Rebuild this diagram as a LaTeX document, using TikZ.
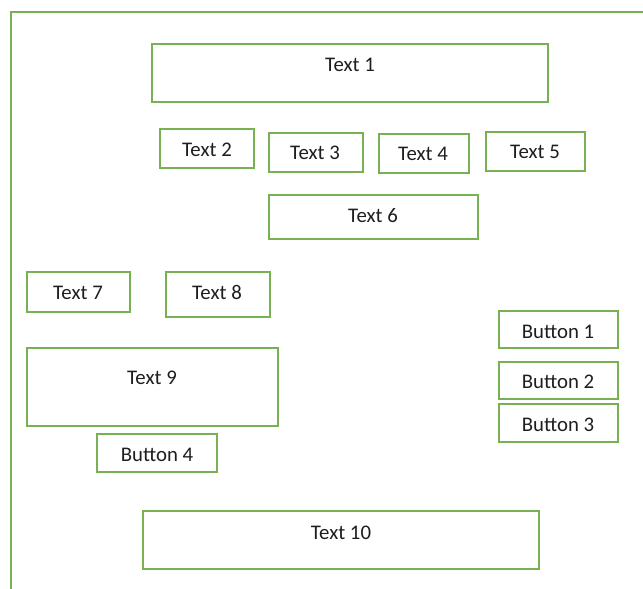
\documentclass[tikz,border=0pt]{standalone}
\usepackage{fontspec}
\setmainfont{Carlito}
\definecolor{boxgreen}{RGB}{120,176,84}
\definecolor{txt}{RGB}{30,30,30}
\begin{document}
\begin{tikzpicture}[x=1pt,y=-1pt,
  box/.style={draw=boxgreen, line width=1.1pt, inner sep=0pt, outer sep=0pt},
  lbl/.style={anchor=base, inner sep=0pt, text=txt, font=\fontsize{20.8}{25}\selectfont}]
\useasboundingbox (0,0) rectangle (643,589);
\fill[white] (0,0) rectangle (643,589);
% frame
\draw[boxgreen, line width=1.1pt] (643,12) -- (11,12) -- (11,589);
% boxes: centre x, centre y, width, height
\node[box, minimum width=396, minimum height=58] (b1) at (350,73) {};
\node[box, minimum width=94, minimum height=39] (b2) at (207,148.5) {};
\node[box, minimum width=94, minimum height=39] (b3) at (316,152.5) {};
\node[box, minimum width=90, minimum height=39] (b4) at (424,153.5) {};
\node[box, minimum width=99, minimum height=39] (b5) at (535.5,151.5) {};
\node[box, minimum width=209, minimum height=44] (b6) at (373.5,217) {};
\node[box, minimum width=103, minimum height=40] (b7) at (78.5,292) {};
\node[box, minimum width=104, minimum height=45] (b8) at (218,294.5) {};
\node[box, minimum width=251, minimum height=78] (b9) at (152.5,387) {};
\node[box, minimum width=120, minimum height=38] (bb4) at (157,453) {};
\node[box, minimum width=119, minimum height=37] (bb1) at (558.5,329.5) {};
\node[box, minimum width=119, minimum height=37] (bb2) at (558.5,380.5) {};
\node[box, minimum width=119, minimum height=38] (bb3) at (558.5,423) {};
\node[box, minimum width=396, minimum height=58] (b10) at (341,540) {};
% labels (base points)
\node[lbl] (l1) at (350,71.7) {Text 1};
\node[lbl] (l2) at (207,156) {Text 2};
\node[lbl] (l3) at (315,159.7) {Text 3};
\node[lbl] (l4) at (423,160.7) {Text 4};
\node[lbl] (l5) at (535,158.7) {Text 5};
\node[lbl] (l6) at (373,222.7) {Text 6};
\node[lbl] (l7) at (78,299.7) {Text 7};
\node[lbl] (l8) at (217,299.7) {Text 8};
\node[lbl] (l9) at (152,384.7) {Text 9};
\node[lbl] (lb4) at (157,461.7) {Button 4};
\node[lbl] (lb1) at (558,338.7) {Button 1};
\node[lbl] (lb2) at (558,388.7) {Button 2};
\node[lbl] (lb3) at (558,431.7) {Button 3};
\node[lbl] (l10) at (341,539.7) {Text 10};
\end{tikzpicture}
\end{document}
